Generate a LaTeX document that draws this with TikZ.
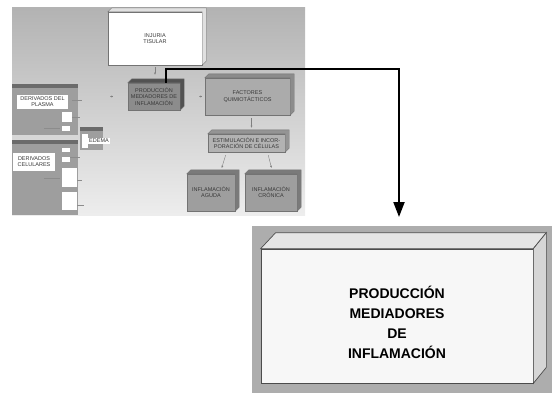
\documentclass[tikz,border=0pt]{standalone}
\usepackage{fontspec}
\setmainfont{Liberation Sans}
\usetikzlibrary{arrows.meta}

\tikzset{
  caja/.style={draw=black!55, line width=0.4pt, fill=#1, inner sep=0pt, align=center,
    text=black!78, font=\fontsize{5.5}{6.2}\selectfont},
  rotulo/.style={fill=white, inner sep=0.8pt, align=center, text=black!78,
    font=\fontsize{5.5}{6.2}\selectfont},
  flechita/.style={-{Latex[length=2.2pt,width=2pt]}, black!50, line width=0.4pt},
  flecha/.style={line width=2pt, -{Triangle[length=15pt,width=11pt]}},
}

\begin{document}
\begin{tikzpicture}[x=1pt,y=-1pt]
  \useasboundingbox (0,0) rectangle (552,394);
  % fondo del esquema
  \shade[top color=black!30, bottom color=black!7] (12,7) rectangle (305,215);

  % panel izquierdo
  \fill[black!38] (12,84) rectangle (78,135);
  \fill[black!58] (12,84) rectangle (78,88);
  \fill[white] (62,112) rectangle (72,122);
  \fill[white] (62,126) rectangle (70,131);
  \fill[black!38] (12,140) rectangle (78,215);
  \fill[black!58] (12,140) rectangle (78,144);
  \fill[white] (62,148) rectangle (70,152);
  \fill[white] (62,157) rectangle (70,162);
  \fill[white] (62,168) rectangle (77,187);
  \fill[white] (62,192) rectangle (77,210);
  \fill[black!38] (80,127) rectangle (103,150);
  \fill[black!58] (80,127) rectangle (103,131);
  \fill[white] (82,134) rectangle (88,148);
  \draw[black!45, line width=0.3pt] (72,100) -- (82,100) (72,117) -- (80,117)
   (44,128) -- (60,128) (70,157) -- (80,157) (44,178) -- (60,178)
   (77,180) -- (82,180) (77,205) -- (84,205);
  \node[rotulo, minimum width=51pt, minimum height=14pt] (plasma) at (42.5,101.5)
   {DERIVADOS DEL\\PLASMA};
  \node[rotulo, minimum width=42pt, minimum height=18pt] (celulares) at (34,162)
   {DERIVADOS\\CELULARES};
  \node[rotulo] (edema) at (99,141) {EDEMA};

  % cajas del esquema
  \node[caja=white, minimum width=94pt, minimum height=53pt] (injuria) at (155,38.5)
   {INJURIA\\TISULAR};
  \node[caja=black!45, minimum width=52pt, minimum height=27pt] (prod) at (154,96.5)
   {PRODUCCIÓN\\MEDIADORES DE\\INFLAMACIÓN};
  \node[caja=black!33, minimum width=85pt, minimum height=37pt] (factores) at (247.5,96.5)
   {FACTORES\\QUIMIOTÁCTICOS};
  \node[caja=black!30, minimum width=77pt, minimum height=18pt] (estim) at (246.5,143)
   {ESTIMULACIÓN E INCOR-\\PORACIÓN DE CÉLULAS};
  \node[caja=black!38, minimum width=48pt, minimum height=37pt] (aguda) at (211,192.5)
   {INFLAMACIÓN\\AGUDA};
  \node[caja=black!38, minimum width=52pt, minimum height=37pt] (cronica) at (271,192.5)
   {INFLAMACIÓN\\CRÓNICA};
  \foreach \n/\c in {injuria/black!12, prod/black!68, factores/black!45,
                     estim/black!42, aguda/black!52, cronica/black!52}
    \filldraw[fill=\c, draw=black!55, line width=0.4pt] (\n.north west) -- ++(4pt,4pt)
     -- ([shift={(4pt,4pt)}]\n.north east) -- ([shift={(4pt,4pt)}]\n.south east)
     -- (\n.south east) -- (\n.north east) -- cycle;

  % flechas pequenas
  \draw[flechita, shorten <=2pt, shorten >=8pt] (injuria.south) -- (injuria.south |- prod.north);
  \draw[flechita, shorten <=3pt, shorten >=6pt] ([xshift=4pt]factores.south)
   -- ([xshift=4pt]factores.south |- estim.north);
  \draw[flechita, shorten <=3pt, shorten >=6pt] ([xshift=-20pt]estim.south)
   -- ([xshift=9pt]aguda.north);
  \draw[flechita, shorten <=3pt, shorten >=6pt] ([xshift=21pt]estim.south)
   -- ([xshift=2pt]cronica.north);
  \draw[flechita] ([xshift=-15pt]prod.west) -- ([xshift=-18pt]prod.west);
  \draw[flechita] ([xshift=-3pt]factores.west) -- ([xshift=-6pt]factores.west);

  % caja grande
  \fill[black!32] (252,226) rectangle (552,393);
  \node[draw=black!70, line width=0.7pt, fill=black!3, minimum width=272pt,
   minimum height=134pt] (grande) at (397,316) {};
  \filldraw[fill=black!10, draw=black!70, line width=0.7pt] (grande.north west)
   -- ++(15pt,16pt) -- ([shift={(13pt,16pt)}]grande.north east) -- (grande.north east) -- cycle;
  \filldraw[fill=black!16, draw=black!70, line width=0.7pt] (grande.north east)
   -- ([shift={(13pt,16pt)}]grande.north east) -- ([shift={(13pt,16pt)}]grande.south east)
   -- (grande.south east) -- cycle;
  \node[align=center, font=\bfseries\fontsize{14}{20}\selectfont] (titulo)
   at ([yshift=-6pt]grande.center) {PRODUCCIÓN\\MEDIADORES\\DE\\INFLAMACIÓN};

  % flecha gruesa
  \coordinate (fin) at (399,217);
  \draw[flecha] ([xshift=12pt]prod.north) -- ++(0,-14) -| (fin);
\end{tikzpicture}
\end{document}
